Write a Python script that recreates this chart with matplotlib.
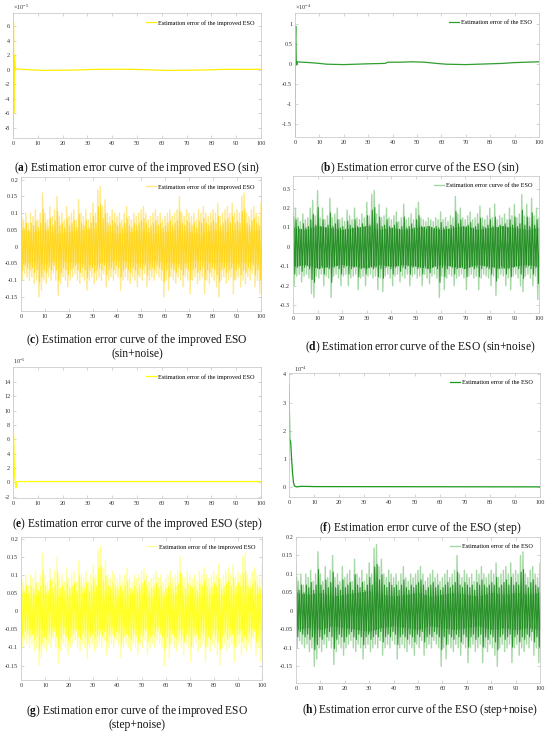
import numpy as np
import matplotlib.pyplot as plt

plt.rcParams['font.family'] = ['Liberation Serif', 'DejaVu Serif']
plt.rcParams['mathtext.fontset'] = 'custom'
plt.rcParams['mathtext.rm'] = 'Liberation Serif'
plt.rcParams['mathtext.bf'] = 'Liberation Serif:bold'
plt.rcParams['axes.unicode_minus'] = False

# ---- data ----
# (a) improved ESO, sin, units of 1e-5
t_a = [0, 0.1, 0.2, 0.3, 0.5, 1, 6, 12, 18, 25, 31, 37, 43, 50, 56, 62, 68, 75, 81, 87, 93, 100]
e_a = [7.8, -9.4, 6.5, -6, 2, 0.1, 0, -0.1, -0.08, -0.05, 0.03, 0.06, 0.06, 0.03, -0.03, -0.1,
       -0.08, -0.05, 0, 0.06, 0.04, 0.06]

# (b) ESO, sin, units of 1e-4
t_b = [0, 0.1, 0.3, 0.5, 0.7, 1, 3, 6, 10, 13, 20, 30, 37, 38, 43, 48, 53, 58, 62, 70, 80, 85, 90, 95, 100]
e_b = [-1.8, 0.5, 0.95, 0.1, -0.02, 0.06, 0.05, 0.04, 0.02, 0, -0.01, 0.01, 0.02, 0.05, 0.05, 0.06,
       0.05, 0.02, 0, -0.01, 0.01, 0.02, 0.04, 0.05, 0.06]

# (e) improved ESO, step, units of 1e-5
t_e = [0, 0.05, 0.15, 0.3, 0.45, 0.6, 0.8, 1.0, 1.2, 1.5, 2, 5, 100]
e_e = [16, 13.5, 7, 6.2, 3, 1, 0.5, -0.3, -0.8, 0.1, 0.1, 0.1, 0.1]

# (f) ESO, step, units of 1e-4
t_f = [0, 0.1, 0.3, 0.5, 0.7, 0.9, 1.1, 1.4, 1.8, 2.2, 3, 5, 10, 100]
e_f = [3.65, 3.2, 1.7, 1.65, 1.55, 1.2, 0.9, 0.5, 0.15, 0.03, 0.0, 0.02, 0.01, 0.0]

# noisy runs: spike envelopes per 1 s (t = 0..100) and dense core per 5 s
t_n = np.arange(101)
t_core = np.arange(0, 101, 5)

imp_hi = [0.13, 0.08, 0.1, 0.07, 0.1, 0.09, 0.11, 0.08, 0.1, 0.16,
          0.1, 0.08, 0.12, 0.09, 0.11, 0.15, 0.09, 0.1, 0.08, 0.12,
          0.09, 0.1, 0.11, 0.08, 0.14, 0.1, 0.09, 0.11, 0.08, 0.1,
          0.13, 0.1, 0.17, 0.18, 0.12, 0.14, 0.1, 0.09, 0.11, 0.1,
          0.09, 0.1, 0.08, 0.1, 0.12, 0.09, 0.08, 0.1, 0.09, 0.1,
          0.11, 0.12, 0.1, 0.08, 0.09, 0.1, 0.11, 0.09, 0.1, 0.08,
          0.09, 0.1, 0.11, 0.09, 0.1, 0.11, 0.15, 0.1, 0.09, 0.11,
          0.1, 0.09, 0.1, 0.08, 0.11, 0.1, 0.12, 0.1, 0.09, 0.1,
          0.11, 0.1, 0.13, 0.09, 0.1, 0.11, 0.12, 0.1, 0.13, 0.1,
          0.11, 0.1, 0.15, 0.16, 0.1, 0.09, 0.11, 0.12, 0.1, 0.09,
          0.13]
imp_lo = [-0.1, -0.08, -0.09, -0.1, -0.09, -0.11, -0.1, -0.15, -0.13, -0.1,
          -0.11, -0.09, -0.1, -0.08, -0.1, -0.145, -0.11, -0.09, -0.1, -0.12,
          -0.1, -0.09, -0.08, -0.1, -0.11, -0.09, -0.1, -0.13, -0.1, -0.09,
          -0.11, -0.1, -0.09, -0.1, -0.08, -0.12, -0.1, -0.09, -0.1, -0.08,
          -0.09, -0.13, -0.1, -0.09, -0.1, -0.11, -0.09, -0.1, -0.12, -0.09,
          -0.1, -0.08, -0.12, -0.1, -0.09, -0.1, -0.08, -0.09, -0.1, -0.15,
          -0.1, -0.13, -0.09, -0.1, -0.11, -0.09, -0.1, -0.12, -0.09, -0.1,
          -0.14, -0.1, -0.09, -0.11, -0.1, -0.09, -0.14, -0.1, -0.11, -0.09,
          -0.1, -0.12, -0.15, -0.1, -0.09, -0.11, -0.1, -0.09, -0.14, -0.1,
          -0.09, -0.12, -0.1, -0.11, -0.09, -0.1, -0.08, -0.12, -0.1, -0.14,
          -0.1]
imp_core = [0.05, 0.045, 0.05, 0.04, 0.045, 0.05, 0.055, 0.045, 0.04, 0.045, 0.05,
            0.04, 0.045, 0.05, 0.045, 0.04, 0.05, 0.045, 0.05, 0.045, 0.05]

eso_hi = [0.22, 0.2, 0.15, 0.13, 0.17, 0.14, 0.15, 0.2, 0.24, 0.16,
          0.29, 0.15, 0.2, 0.14, 0.16, 0.25, 0.15, 0.17, 0.2, 0.14,
          0.15, 0.13, 0.19, 0.16, 0.14, 0.2, 0.15, 0.14, 0.17, 0.15,
          0.23, 0.16, 0.27, 0.29, 0.17, 0.22, 0.15, 0.16, 0.2, 0.15,
          0.14, 0.16, 0.18, 0.13, 0.15, 0.22, 0.14, 0.15, 0.17, 0.14,
          0.2, 0.23, 0.15, 0.14, 0.13, 0.15, 0.14, 0.13, 0.15, 0.14,
          0.18, 0.14, 0.15, 0.13, 0.16, 0.15, 0.26, 0.17, 0.2, 0.15,
          0.14, 0.16, 0.18, 0.14, 0.15, 0.17, 0.21, 0.15, 0.14, 0.16,
          0.2, 0.15, 0.22, 0.14, 0.16, 0.15, 0.17, 0.14, 0.2, 0.16,
          0.22, 0.15, 0.17, 0.27, 0.16, 0.22, 0.15, 0.25, 0.16, 0.2,
          0.15]
eso_lo = [-0.2, -0.15, -0.14, -0.18, -0.15, -0.14, -0.16, -0.24, -0.26, -0.15,
          -0.16, -0.14, -0.2, -0.15, -0.16, -0.26, -0.15, -0.14, -0.16, -0.2,
          -0.15, -0.14, -0.2, -0.16, -0.15, -0.14, -0.22, -0.16, -0.15, -0.2,
          -0.15, -0.14, -0.16, -0.15, -0.22, -0.16, -0.23, -0.15, -0.14, -0.16,
          -0.2, -0.15, -0.14, -0.18, -0.15, -0.16, -0.14, -0.2, -0.15, -0.14,
          -0.16, -0.15, -0.2, -0.14, -0.16, -0.19, -0.15, -0.14, -0.16, -0.26,
          -0.15, -0.22, -0.16, -0.14, -0.15, -0.2, -0.16, -0.15, -0.14, -0.16,
          -0.22, -0.15, -0.14, -0.16, -0.15, -0.22, -0.16, -0.14, -0.15, -0.16,
          -0.2, -0.15, -0.25, -0.16, -0.14, -0.15, -0.2, -0.16, -0.22, -0.15,
          -0.14, -0.16, -0.2, -0.23, -0.15, -0.14, -0.16, -0.2, -0.15, -0.27,
          -0.15]
eso_core = [0.1, 0.09, 0.11, 0.1, 0.09, 0.1, 0.11, 0.09, 0.1, 0.09, 0.1,
            0.11, 0.09, 0.1, 0.11, 0.09, 0.1, 0.11, 0.1, 0.09, 0.1]

captions = [
    r'($\mathbf{a}$) Estimation error curve of the improved ESO (sin)',
    r'($\mathbf{b}$) Estimation error curve of the ESO (sin)',
    r'($\mathbf{c}$) Estimation error curve of the improved ESO' + '\n(sin+noise)',
    r'($\mathbf{d}$) Estimation error curve of the ESO (sin+noise)',
    r'($\mathbf{e}$) Estimation error curve of the improved ESO (step)',
    r'($\mathbf{f}$) Estimation error curve of the ESO (step)',
    r'($\mathbf{g}$) Estimation error curve of the improved ESO' + '\n(step+noise)',
    r'($\mathbf{h}$) Estimation error curve of the ESO (step+noise)',
]

W, H = 550, 735
fig = plt.figure(figsize=(5.5, 7.35), dpi=100)


def box(l, t, r, b):
    return fig.add_axes([l / W, 1 - b / H, (r - l) / W, (b - t) / H])


def style(ax, ylim, yticks):
    ax.set_xlim(0, 100)
    ax.set_ylim(ylim)
    ax.set_xticks(range(0, 101, 10))
    ax.set_yticks(yticks)
    ax.set_yticklabels(['%g' % round(v, 3) for v in yticks])
    ax.tick_params(direction='in', length=2, width=0.4, colors='#b5b5b5',
                   labelcolor='#333333', labelsize=4.5, top=True, right=True, pad=2)
    for s in ax.spines.values():
        s.set_color('#cccccc')
        s.set_linewidth(0.6)


def noisy(ax, hi, lo, core, c_dark, c_light, label):
    # zigzag through the spike peaks read per second
    x = np.empty(2 * len(t_n))
    x[0::2] = t_n
    x[1::2] = t_n + 0.5
    y = np.empty(2 * len(t_n))
    y[0::2] = hi
    y[1::2] = lo
    ax.plot(x, y, color=c_light, lw=1.0, label=label)
    ax.plot(x + 0.25, y * 0.7, color=c_dark, lw=0.8, alpha=0.75)
    ax.fill_between(t_core, -np.array(core), core, color=c_dark, lw=0)


def expo(ax, txt):
    ax.text(0.0, 1.01, txt, transform=ax.transAxes, fontsize=4.5, color='#333333',
            ha='left', va='bottom')


leg = dict(loc='upper right', frameon=False, fontsize=4.5, handlelength=1.6,
           handletextpad=0.3, borderaxespad=0.7)

# (a)
ax = box(13, 13, 261, 138)
ax.plot(t_a, e_a, color='#ffee00', lw=0.9, label='Estimation error of the improved ESO')
style(ax, (-9.4, 7.8), list(range(-8, 7, 2)))
expo(ax, r'$\times10^{-5}$')
ax.legend(**leg)

# (b)
ax = box(295, 13, 539, 137)
ax.plot(t_b, e_b, color='#2f9e2f', lw=0.9, label='Estimation error of the ESO')
style(ax, (-1.82, 1.28), [-1.5, -1, -0.5, 0, 0.5, 1])
expo(ax, r'$\times10^{-4}$')
ax.legend(**leg)

# (c)
ax = box(21, 177, 261, 311)
noisy(ax, imp_hi, imp_lo, imp_core, '#ffd200', '#ffe98a', 'Estimation error of the improved ESO')
style(ax, (-0.192, 0.208), [-0.15, -0.1, -0.05, 0, 0.05, 0.1, 0.15, 0.2])
ax.legend(**leg)

# (d)
ax = box(293, 176, 539, 313)
noisy(ax, eso_hi, eso_lo, eso_core, '#007a00', '#a6d8a6', 'Estimation error curve of the ESO')
style(ax, (-0.34, 0.365), [-0.3, -0.2, -0.1, 0, 0.1, 0.2, 0.3])
ax.legend(**leg)

# (e)
ax = box(13, 367, 261, 498)
ax.plot(t_e, e_e, color='#ffff00', lw=0.9, label='Estimation error of the improved ESO')
style(ax, (-2.2, 16.1), list(range(-2, 15, 2)))
expo(ax, r'$10^{-5}$')
ax.legend(**leg)

# (f)
ax = box(289, 373, 540, 497)
ax.plot(t_f, e_f, color='#1a9a1a', lw=0.9, label='Estimation error of the ESO')
style(ax, (-0.36, 4.05), [0, 1, 2, 3, 4])
ax.text(0.02, 0.99, r'$10^{-4}$', transform=ax.transAxes, fontsize=4.5, color='#333333',
        ha='left', va='bottom')
ax.legend(**leg)

# (g) same noise record as (c)
ax = box(21, 537, 262, 680)
noisy(ax, imp_hi, imp_lo, imp_core, '#ffff00', '#ffff9a', 'Estimation error of the improved ESO')
style(ax, (-0.19, 0.205), [-0.15, -0.1, -0.05, 0, 0.05, 0.1, 0.15, 0.2])
ax.legend(**leg)

# (h)
ax = box(296, 537, 540, 683)
noisy(ax, imp_hi, imp_lo, imp_core, '#007a00', '#a6d8a6', 'Estimation error of the ESO')
style(ax, (-0.195, 0.2), [-0.15, -0.1, -0.05, 0, 0.05, 0.1, 0.15, 0.2])
ax.legend(**leg)

cap_pos = [(137, 168), (420, 168), (137, 346), (420, 347),
           (137, 524), (420, 528), (137, 717), (420, 710)]
for (cx, cy), txt in zip(cap_pos, captions):
    fig.text(cx / W, 1 - cy / H, txt, ha='center', va='center', fontsize=8.3,
             color='#111111', linespacing=1.1)

fig.savefig('out.png', dpi=100)
